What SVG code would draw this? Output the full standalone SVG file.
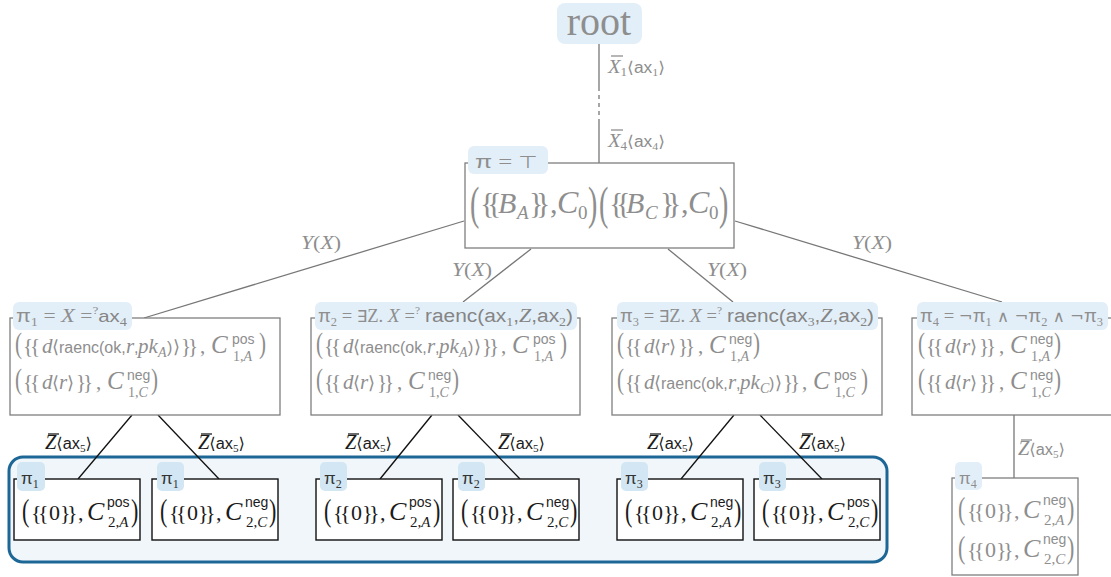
<svg xmlns="http://www.w3.org/2000/svg" width="1111" height="577" viewBox="0 0 1111 577">
<style>
.g{fill:#8e8e8e}
.k{fill:#1b1b1b}
.s{font-family:"Liberation Serif","DejaVu Serif",serif}
.i{font-family:"Liberation Serif","DejaVu Serif",serif;font-style:italic}
.a{font-family:"Liberation Sans","DejaVu Sans",sans-serif}
.d{font-family:"DejaVu Sans","Liberation Sans",sans-serif}
.b21{font-family:"Liberation Serif","DejaVu Serif",serif;font-size:21px;letter-spacing:-3px}
.b22{font-family:"Liberation Serif","DejaVu Serif",serif;font-size:22px;letter-spacing:-3.5px}
.b30{font-family:"Liberation Serif","DejaVu Serif",serif;font-size:30px;letter-spacing:-7.4px}
.pb{fill:#fff;stroke:#7f7f7f;stroke-width:1.3}
.lb{fill:#fff;stroke:#111;stroke-width:1.4}
.tag{fill:#e3eff8}
.tagd{fill:#d2e6f3}
.e{stroke:#777;stroke-width:1.3;fill:none}
.ek{stroke:#111;stroke-width:1.3;fill:none}
.bg{stroke:#8e8e8e;stroke-width:1.3}
.bk{stroke:#1b1b1b;stroke-width:1.3}
</style>

<rect id="highlight" x="9" y="457" width="878" height="105" rx="14" fill="#f1f6fa" stroke="#1d6796" stroke-width="3"/>

<g id="connectors">
  <line class="e" x1="599" y1="44" x2="599" y2="87"/>
  <line class="e" x1="599" y1="87" x2="599" y2="122" stroke-dasharray="4 4"/>
  <line class="e" x1="599" y1="122" x2="599" y2="163"/>
  <line class="e" x1="464" y1="221" x2="144" y2="318"/>
  <line class="e" x1="531" y1="249" x2="463" y2="302"/>
  <line class="e" x1="668" y1="249" x2="733" y2="302"/>
  <line class="e" x1="735" y1="221" x2="1002" y2="302"/>
  <line class="ek" x1="132" y1="415" x2="78" y2="479"/>
  <line class="ek" x1="158" y1="415" x2="219" y2="479"/>
  <line class="ek" x1="432" y1="415" x2="380" y2="479"/>
  <line class="ek" x1="458" y1="415" x2="520" y2="479"/>
  <line class="ek" x1="734" y1="415" x2="681" y2="479"/>
  <line class="ek" x1="760" y1="415" x2="822" y2="479"/>
  <line class="e" x1="1014" y1="415" x2="1014" y2="478"/>
  <line class="bg" x1="611" y1="56" x2="623" y2="56"/>
  <text class="g" x="608" y="73" textLength="57" lengthAdjust="spacingAndGlyphs"><tspan class="i" font-size="19">X</tspan><tspan class="s" font-size="12" dy="3">1</tspan><tspan class="d" font-size="16" dy="-3">⟨</tspan><tspan class="a" font-size="16">ax</tspan><tspan class="s" font-size="11" dy="3">1</tspan><tspan class="d" font-size="16" dy="-3">⟩</tspan></text>
  <line class="bg" x1="611" y1="130" x2="623" y2="130"/>
  <text class="g" x="608" y="147" textLength="57" lengthAdjust="spacingAndGlyphs"><tspan class="i" font-size="19">X</tspan><tspan class="s" font-size="12" dy="3">4</tspan><tspan class="d" font-size="16" dy="-3">⟨</tspan><tspan class="a" font-size="16">ax</tspan><tspan class="s" font-size="11" dy="3">4</tspan><tspan class="d" font-size="16" dy="-3">⟩</tspan></text>
  <text class="g" x="301" y="249" textLength="40" lengthAdjust="spacingAndGlyphs" font-size="18"><tspan class="i">Y</tspan><tspan class="s">(</tspan><tspan class="i">X</tspan><tspan class="s">)</tspan></text>
  <text class="g" x="452" y="276" textLength="40" lengthAdjust="spacingAndGlyphs" font-size="18"><tspan class="i">Y</tspan><tspan class="s">(</tspan><tspan class="i">X</tspan><tspan class="s">)</tspan></text>
  <text class="g" x="707" y="276" textLength="40" lengthAdjust="spacingAndGlyphs" font-size="18"><tspan class="i">Y</tspan><tspan class="s">(</tspan><tspan class="i">X</tspan><tspan class="s">)</tspan></text>
  <text class="g" x="852" y="249" textLength="40" lengthAdjust="spacingAndGlyphs" font-size="18"><tspan class="i">Y</tspan><tspan class="s">(</tspan><tspan class="i">X</tspan><tspan class="s">)</tspan></text>
  <line class="bk" x1="48" y1="434" x2="59" y2="434"/>
  <text class="k" x="45" y="449" textLength="47" lengthAdjust="spacingAndGlyphs"><tspan class="i" font-size="20">Z</tspan><tspan class="d" font-size="16">⟨</tspan><tspan class="a" font-size="16">ax</tspan><tspan class="s" font-size="11" dy="3">5</tspan><tspan class="d" font-size="16" dy="-3">⟩</tspan></text>
  <line class="bk" x1="201" y1="434" x2="212" y2="434"/>
  <text class="k" x="198" y="449" textLength="47" lengthAdjust="spacingAndGlyphs"><tspan class="i" font-size="20">Z</tspan><tspan class="d" font-size="16">⟨</tspan><tspan class="a" font-size="16">ax</tspan><tspan class="s" font-size="11" dy="3">5</tspan><tspan class="d" font-size="16" dy="-3">⟩</tspan></text>
  <line class="bk" x1="348" y1="434" x2="359" y2="434"/>
  <text class="k" x="345" y="449" textLength="47" lengthAdjust="spacingAndGlyphs"><tspan class="i" font-size="20">Z</tspan><tspan class="d" font-size="16">⟨</tspan><tspan class="a" font-size="16">ax</tspan><tspan class="s" font-size="11" dy="3">5</tspan><tspan class="d" font-size="16" dy="-3">⟩</tspan></text>
  <line class="bk" x1="501" y1="434" x2="512" y2="434"/>
  <text class="k" x="498" y="449" textLength="47" lengthAdjust="spacingAndGlyphs"><tspan class="i" font-size="20">Z</tspan><tspan class="d" font-size="16">⟨</tspan><tspan class="a" font-size="16">ax</tspan><tspan class="s" font-size="11" dy="3">5</tspan><tspan class="d" font-size="16" dy="-3">⟩</tspan></text>
  <line class="bk" x1="650" y1="434" x2="661" y2="434"/>
  <text class="k" x="647" y="449" textLength="47" lengthAdjust="spacingAndGlyphs"><tspan class="i" font-size="20">Z</tspan><tspan class="d" font-size="16">⟨</tspan><tspan class="a" font-size="16">ax</tspan><tspan class="s" font-size="11" dy="3">5</tspan><tspan class="d" font-size="16" dy="-3">⟩</tspan></text>
  <line class="bk" x1="802" y1="434" x2="813" y2="434"/>
  <text class="k" x="799" y="449" textLength="47" lengthAdjust="spacingAndGlyphs"><tspan class="i" font-size="20">Z</tspan><tspan class="d" font-size="16">⟨</tspan><tspan class="a" font-size="16">ax</tspan><tspan class="s" font-size="11" dy="3">5</tspan><tspan class="d" font-size="16" dy="-3">⟩</tspan></text>
  <line class="bg" x1="1021" y1="440" x2="1032" y2="440"/>
  <text class="g" x="1018" y="455" textLength="47" lengthAdjust="spacingAndGlyphs"><tspan class="i" font-size="20">Z</tspan><tspan class="d" font-size="16">⟨</tspan><tspan class="a" font-size="16">ax</tspan><tspan class="s" font-size="11" dy="3">5</tspan><tspan class="d" font-size="16" dy="-3">⟩</tspan></text>
</g>

<g id="root">
  <rect class="tag" x="557" y="3" width="85" height="41" rx="8"/>
  <text class="g s" x="599" y="35" text-anchor="middle" font-size="40">root</text>
</g>

<g id="main">
  <rect class="pb" x="465" y="163" width="269" height="85"/>
  <rect class="tag" x="468" y="146" width="80" height="28" rx="6"/>
  <text class="g" x="475" y="168" textLength="63" lengthAdjust="spacingAndGlyphs"><tspan class="a" font-size="19">π</tspan><tspan class="s" font-size="19"> = </tspan><tspan class="d" font-size="17">⊤</tspan></text>
  <text class="g s" font-size="28" transform="translate(470,219) scale(1,1.65)">(</text>
  <text class="g" y="213"><tspan class="b30" x="480">{{</tspan><tspan class="i" font-size="30" x="498">B</tspan><tspan class="i" font-size="19" x="517" dy="6">A</tspan><tspan class="b30" x="529" dy="-6">}}</tspan><tspan class="s" font-size="30" x="550">,</tspan><tspan class="i" font-size="32" x="557">C</tspan><tspan class="s" font-size="19" x="578" dy="6">0</tspan></text>
  <text class="g s" font-size="28" transform="translate(588,219) scale(1,1.65)">)</text>
  <text class="g s" font-size="28" transform="translate(599,219) scale(1,1.65)">(</text>
  <text class="g" y="213"><tspan class="b30" x="609">{{</tspan><tspan class="i" font-size="30" x="626">B</tspan><tspan class="i" font-size="19" x="645" dy="6">C</tspan><tspan class="b30" x="660" dy="-6">}}</tspan><tspan class="s" font-size="30" x="681">,</tspan><tspan class="i" font-size="32" x="688">C</tspan><tspan class="s" font-size="19" x="709" dy="6">0</tspan></text>
  <text class="g s" font-size="28" transform="translate(719,219) scale(1,1.65)">)</text>
</g>

<g id="pi1">
  <rect class="pb" x="10" y="318" width="270" height="97"/>
  <rect class="tag" x="13" y="302" width="119" height="28" rx="6"/>
  <text class="g" x="16" y="322" textLength="111" lengthAdjust="spacingAndGlyphs"><tspan class="a" font-size="18">π</tspan><tspan class="s" font-size="12" dy="4">1</tspan><tspan class="s" font-size="18" dy="-4"> = </tspan><tspan class="i" font-size="19">X</tspan><tspan class="s" font-size="18"> =</tspan><tspan class="s" font-size="11" dy="-8">?</tspan><tspan class="a" font-size="17" dy="8" fill="#858585">ax</tspan><tspan class="s" font-size="12" dy="4" fill="#858585">4</tspan></text>
  <text class="g s" font-size="21" transform="translate(15,353) scale(1,1.45)">(</text>
  <text class="g" y="353"><tspan class="b21" x="23">{{</tspan><tspan class="i" font-size="21" x="42">d</tspan><tspan class="d" font-size="18" x="52">⟨</tspan><tspan class="a" font-size="16" x="59">raenc(ok,</tspan><tspan class="i" font-size="21" x="126">r</tspan><tspan class="a" font-size="16" x="134">,</tspan><tspan class="i" font-size="21" x="138">pk</tspan><tspan class="i" font-size="14" x="158" dy="4">A</tspan><tspan class="a" font-size="16" x="167" dy="-4">)</tspan><tspan class="d" font-size="18" x="173">⟩</tspan><tspan class="b21" x="181">}}</tspan><tspan class="s" font-size="21" x="200">,</tspan><tspan class="i" font-size="25" x="211">C</tspan></text>
  <text class="g a" font-size="14" x="232" y="344">pos</text>
  <text class="g s" font-size="14" x="233" y="361">1,<tspan class="i">A</tspan></text>
  <text class="g s" font-size="21" transform="translate(259,353) scale(1,1.45)">)</text>
  <text class="g s" font-size="21" transform="translate(15,389) scale(1,1.45)">(</text>
  <text class="g" y="389"><tspan class="b21" x="23">{{</tspan><tspan class="i" font-size="21" x="42">d</tspan><tspan class="d" font-size="18" x="52">⟨</tspan><tspan class="i" font-size="21" x="59">r</tspan><tspan class="d" font-size="18" x="67">⟩</tspan><tspan class="b21" x="76">}}</tspan><tspan class="s" font-size="21" x="96">,</tspan><tspan class="i" font-size="25" x="107">C</tspan></text>
  <text class="g a" font-size="14" x="127" y="380">neg</text>
  <text class="g s" font-size="14" x="128" y="397">1,<tspan class="i">C</tspan></text>
  <text class="g s" font-size="21" transform="translate(151,389) scale(1,1.45)">)</text>
</g>

<g id="pi2">
  <rect class="pb" x="311" y="318" width="269" height="97"/>
  <rect class="tag" x="315" y="302" width="262" height="28" rx="6"/>
  <text class="g" x="318" y="322" textLength="102" lengthAdjust="spacingAndGlyphs"><tspan class="a" font-size="18">π</tspan><tspan class="s" font-size="12" dy="4">2</tspan><tspan class="s" font-size="18" dy="-4"> = </tspan><tspan class="d" font-size="16">∃</tspan><tspan class="s" font-size="18">Z. </tspan><tspan class="i" font-size="19">X</tspan><tspan class="s" font-size="18"> =</tspan><tspan class="s" font-size="11" dy="-8">?</tspan></text>
  <text fill="#858585" x="425" y="322" textLength="148" lengthAdjust="spacingAndGlyphs"><tspan class="a" font-size="18">raenc(ax</tspan><tspan class="s" font-size="12" dy="4">1</tspan><tspan class="a" font-size="18" dy="-4">,</tspan><tspan class="i" font-size="19">Z</tspan><tspan class="a" font-size="18">,ax</tspan><tspan class="s" font-size="12" dy="4">2</tspan><tspan class="a" font-size="18" dy="-4">)</tspan></text>
  <text class="g s" font-size="21" transform="translate(316,353) scale(1,1.45)">(</text>
  <text class="g" y="353"><tspan class="b21" x="324">{{</tspan><tspan class="i" font-size="21" x="343">d</tspan><tspan class="d" font-size="18" x="353">⟨</tspan><tspan class="a" font-size="16" x="360">raenc(ok,</tspan><tspan class="i" font-size="21" x="427">r</tspan><tspan class="a" font-size="16" x="435">,</tspan><tspan class="i" font-size="21" x="439">pk</tspan><tspan class="i" font-size="14" x="459" dy="4">A</tspan><tspan class="a" font-size="16" x="468" dy="-4">)</tspan><tspan class="d" font-size="18" x="474">⟩</tspan><tspan class="b21" x="482">}}</tspan><tspan class="s" font-size="21" x="501">,</tspan><tspan class="i" font-size="25" x="512">C</tspan></text>
  <text class="g a" font-size="14" x="533" y="344">pos</text>
  <text class="g s" font-size="14" x="534" y="361">1,<tspan class="i">A</tspan></text>
  <text class="g s" font-size="21" transform="translate(560,353) scale(1,1.45)">)</text>
  <text class="g s" font-size="21" transform="translate(316,389) scale(1,1.45)">(</text>
  <text class="g" y="389"><tspan class="b21" x="324">{{</tspan><tspan class="i" font-size="21" x="343">d</tspan><tspan class="d" font-size="18" x="353">⟨</tspan><tspan class="i" font-size="21" x="360">r</tspan><tspan class="d" font-size="18" x="368">⟩</tspan><tspan class="b21" x="377">}}</tspan><tspan class="s" font-size="21" x="397">,</tspan><tspan class="i" font-size="25" x="408">C</tspan></text>
  <text class="g a" font-size="14" x="428" y="380">neg</text>
  <text class="g s" font-size="14" x="429" y="397">1,<tspan class="i">C</tspan></text>
  <text class="g s" font-size="21" transform="translate(452,389) scale(1,1.45)">)</text>
</g>

<g id="pi3">
  <rect class="pb" x="612" y="318" width="270" height="97"/>
  <rect class="tag" x="617" y="302" width="261" height="28" rx="6"/>
  <text class="g" x="620" y="322" textLength="102" lengthAdjust="spacingAndGlyphs"><tspan class="a" font-size="18">π</tspan><tspan class="s" font-size="12" dy="4">3</tspan><tspan class="s" font-size="18" dy="-4"> = </tspan><tspan class="d" font-size="16">∃</tspan><tspan class="s" font-size="18">Z. </tspan><tspan class="i" font-size="19">X</tspan><tspan class="s" font-size="18"> =</tspan><tspan class="s" font-size="11" dy="-8">?</tspan></text>
  <text fill="#858585" x="727" y="322" textLength="147" lengthAdjust="spacingAndGlyphs"><tspan class="a" font-size="18">raenc(ax</tspan><tspan class="s" font-size="12" dy="4">3</tspan><tspan class="a" font-size="18" dy="-4">,</tspan><tspan class="i" font-size="19">Z</tspan><tspan class="a" font-size="18">,ax</tspan><tspan class="s" font-size="12" dy="4">2</tspan><tspan class="a" font-size="18" dy="-4">)</tspan></text>
  <text class="g s" font-size="21" transform="translate(617,353) scale(1,1.45)">(</text>
  <text class="g" y="353"><tspan class="b21" x="625">{{</tspan><tspan class="i" font-size="21" x="644">d</tspan><tspan class="d" font-size="18" x="654">⟨</tspan><tspan class="i" font-size="21" x="661">r</tspan><tspan class="d" font-size="18" x="669">⟩</tspan><tspan class="b21" x="678">}}</tspan><tspan class="s" font-size="21" x="698">,</tspan><tspan class="i" font-size="25" x="709">C</tspan></text>
  <text class="g a" font-size="14" x="729" y="344">neg</text>
  <text class="g s" font-size="14" x="730" y="361">1,<tspan class="i">A</tspan></text>
  <text class="g s" font-size="21" transform="translate(753,353) scale(1,1.45)">)</text>
  <text class="g s" font-size="21" transform="translate(617,389) scale(1,1.45)">(</text>
  <text class="g" y="389"><tspan class="b21" x="625">{{</tspan><tspan class="i" font-size="21" x="644">d</tspan><tspan class="d" font-size="18" x="654">⟨</tspan><tspan class="a" font-size="16" x="661">raenc(ok,</tspan><tspan class="i" font-size="21" x="728">r</tspan><tspan class="a" font-size="16" x="736">,</tspan><tspan class="i" font-size="21" x="740">pk</tspan><tspan class="i" font-size="14" x="760" dy="4">C</tspan><tspan class="a" font-size="16" x="769" dy="-4">)</tspan><tspan class="d" font-size="18" x="775">⟩</tspan><tspan class="b21" x="783">}}</tspan><tspan class="s" font-size="21" x="802">,</tspan><tspan class="i" font-size="25" x="813">C</tspan></text>
  <text class="g a" font-size="14" x="834" y="380">pos</text>
  <text class="g s" font-size="14" x="835" y="397">1,<tspan class="i">C</tspan></text>
  <text class="g s" font-size="21" transform="translate(861,389) scale(1,1.45)">)</text>
</g>

<g id="pi4">
  <rect class="pb" x="912" y="318" width="210" height="97"/>
  <rect class="tag" x="917" y="302" width="191" height="28" rx="6"/>
  <text class="g" x="920" y="322" textLength="183" lengthAdjust="spacingAndGlyphs"><tspan class="a" font-size="18">π</tspan><tspan class="s" font-size="12" dy="4">4</tspan><tspan class="s" font-size="18" dy="-4"> = </tspan><tspan class="d" font-size="16">¬</tspan><tspan class="a" font-size="18">π</tspan><tspan class="s" font-size="12" dy="4">1</tspan><tspan class="d" font-size="16" dy="-4"> ∧ ¬</tspan><tspan class="a" font-size="18">π</tspan><tspan class="s" font-size="12" dy="4">2</tspan><tspan class="d" font-size="16" dy="-4"> ∧ ¬</tspan><tspan class="a" font-size="18">π</tspan><tspan class="s" font-size="12" dy="4">3</tspan></text>
  <text class="g s" font-size="21" transform="translate(918,353) scale(1,1.45)">(</text>
  <text class="g" y="353"><tspan class="b21" x="926">{{</tspan><tspan class="i" font-size="21" x="945">d</tspan><tspan class="d" font-size="18" x="955">⟨</tspan><tspan class="i" font-size="21" x="962">r</tspan><tspan class="d" font-size="18" x="970">⟩</tspan><tspan class="b21" x="979">}}</tspan><tspan class="s" font-size="21" x="999">,</tspan><tspan class="i" font-size="25" x="1010">C</tspan></text>
  <text class="g a" font-size="14" x="1030" y="344">neg</text>
  <text class="g s" font-size="14" x="1031" y="361">1,<tspan class="i">A</tspan></text>
  <text class="g s" font-size="21" transform="translate(1054,353) scale(1,1.45)">)</text>
  <text class="g s" font-size="21" transform="translate(918,389) scale(1,1.45)">(</text>
  <text class="g" y="389"><tspan class="b21" x="926">{{</tspan><tspan class="i" font-size="21" x="945">d</tspan><tspan class="d" font-size="18" x="955">⟨</tspan><tspan class="i" font-size="21" x="962">r</tspan><tspan class="d" font-size="18" x="970">⟩</tspan><tspan class="b21" x="979">}}</tspan><tspan class="s" font-size="21" x="999">,</tspan><tspan class="i" font-size="25" x="1010">C</tspan></text>
  <text class="g a" font-size="14" x="1030" y="380">neg</text>
  <text class="g s" font-size="14" x="1031" y="397">1,<tspan class="i">C</tspan></text>
  <text class="g s" font-size="21" transform="translate(1054,389) scale(1,1.45)">)</text>
</g>

<g id="leaf1">
  <rect class="lb" x="14" y="479" width="126" height="61"/>
  <rect class="tagd" x="17" y="462" width="28" height="29" rx="5"/>
  <text fill="#333" x="21" y="484"><tspan class="a" font-size="17">π</tspan><tspan class="s" font-size="12" dy="4">1</tspan></text>
  <text class="k s" font-size="22" transform="translate(22,521) scale(1,1.45)">(</text>
  <text class="k" y="520"><tspan class="b22" x="31">{{</tspan><tspan class="s" font-size="22" x="49">0</tspan><tspan class="b22" x="60">}}</tspan><tspan class="s" font-size="22" x="78">,</tspan><tspan class="i" font-size="26" x="87">C</tspan></text>
  <text class="k a" font-size="14" x="107" y="507">pos</text>
  <text class="k s" font-size="15" x="108" y="527">2,<tspan class="i">A</tspan></text>
  <text class="k s" font-size="22" transform="translate(131,521) scale(1,1.45)">)</text>
</g>

<g id="leaf2">
  <rect class="lb" x="152" y="479" width="126" height="61"/>
  <rect class="tagd" x="157" y="462" width="27" height="29" rx="5"/>
  <text fill="#333" x="161" y="484"><tspan class="a" font-size="17">π</tspan><tspan class="s" font-size="12" dy="4">1</tspan></text>
  <text class="k s" font-size="22" transform="translate(160,521) scale(1,1.45)">(</text>
  <text class="k" y="520"><tspan class="b22" x="169">{{</tspan><tspan class="s" font-size="22" x="187">0</tspan><tspan class="b22" x="198">}}</tspan><tspan class="s" font-size="22" x="216">,</tspan><tspan class="i" font-size="26" x="225">C</tspan></text>
  <text class="k a" font-size="14" x="245" y="507">neg</text>
  <text class="k s" font-size="15" x="246" y="527">2,<tspan class="i">C</tspan></text>
  <text class="k s" font-size="22" transform="translate(269,521) scale(1,1.45)">)</text>
</g>

<g id="leaf3">
  <rect class="lb" x="316" y="479" width="126" height="61"/>
  <rect class="tagd" x="320" y="462" width="27" height="29" rx="5"/>
  <text fill="#333" x="324" y="484"><tspan class="a" font-size="17">π</tspan><tspan class="s" font-size="12" dy="4">2</tspan></text>
  <text class="k s" font-size="22" transform="translate(324,521) scale(1,1.45)">(</text>
  <text class="k" y="520"><tspan class="b22" x="333">{{</tspan><tspan class="s" font-size="22" x="351">0</tspan><tspan class="b22" x="362">}}</tspan><tspan class="s" font-size="22" x="380">,</tspan><tspan class="i" font-size="26" x="389">C</tspan></text>
  <text class="k a" font-size="14" x="409" y="507">pos</text>
  <text class="k s" font-size="15" x="410" y="527">2,<tspan class="i">A</tspan></text>
  <text class="k s" font-size="22" transform="translate(433,521) scale(1,1.45)">)</text>
</g>

<g id="leaf4">
  <rect class="lb" x="453" y="479" width="126" height="61"/>
  <rect class="tagd" x="458" y="462" width="27" height="29" rx="5"/>
  <text fill="#333" x="462" y="484"><tspan class="a" font-size="17">π</tspan><tspan class="s" font-size="12" dy="4">2</tspan></text>
  <text class="k s" font-size="22" transform="translate(461,521) scale(1,1.45)">(</text>
  <text class="k" y="520"><tspan class="b22" x="470">{{</tspan><tspan class="s" font-size="22" x="488">0</tspan><tspan class="b22" x="499">}}</tspan><tspan class="s" font-size="22" x="517">,</tspan><tspan class="i" font-size="26" x="526">C</tspan></text>
  <text class="k a" font-size="14" x="546" y="507">neg</text>
  <text class="k s" font-size="15" x="547" y="527">2,<tspan class="i">C</tspan></text>
  <text class="k s" font-size="22" transform="translate(570,521) scale(1,1.45)">)</text>
</g>

<g id="leaf5">
  <rect class="lb" x="617" y="479" width="126" height="61"/>
  <rect class="tagd" x="621" y="462" width="27" height="29" rx="5"/>
  <text fill="#333" x="625" y="484"><tspan class="a" font-size="17">π</tspan><tspan class="s" font-size="12" dy="4">3</tspan></text>
  <text class="k s" font-size="22" transform="translate(625,521) scale(1,1.45)">(</text>
  <text class="k" y="520"><tspan class="b22" x="634">{{</tspan><tspan class="s" font-size="22" x="652">0</tspan><tspan class="b22" x="663">}}</tspan><tspan class="s" font-size="22" x="681">,</tspan><tspan class="i" font-size="26" x="690">C</tspan></text>
  <text class="k a" font-size="14" x="710" y="507">neg</text>
  <text class="k s" font-size="15" x="711" y="527">2,<tspan class="i">A</tspan></text>
  <text class="k s" font-size="22" transform="translate(734,521) scale(1,1.45)">)</text>
</g>

<g id="leaf6">
  <rect class="lb" x="754" y="479" width="126" height="61"/>
  <rect class="tagd" x="759" y="462" width="27" height="29" rx="5"/>
  <text fill="#333" x="763" y="484"><tspan class="a" font-size="17">π</tspan><tspan class="s" font-size="12" dy="4">3</tspan></text>
  <text class="k s" font-size="22" transform="translate(762,521) scale(1,1.45)">(</text>
  <text class="k" y="520"><tspan class="b22" x="771">{{</tspan><tspan class="s" font-size="22" x="789">0</tspan><tspan class="b22" x="800">}}</tspan><tspan class="s" font-size="22" x="818">,</tspan><tspan class="i" font-size="26" x="827">C</tspan></text>
  <text class="k a" font-size="14" x="847" y="507">pos</text>
  <text class="k s" font-size="15" x="848" y="527">2,<tspan class="i">C</tspan></text>
  <text class="k s" font-size="22" transform="translate(871,521) scale(1,1.45)">)</text>
</g>

<g id="leaf7">
  <rect class="pb" x="952" y="478" width="126" height="97"/>
  <rect class="tag" x="955" y="462" width="27" height="28" rx="5"/>
  <text class="g" x="959" y="484"><tspan class="a" font-size="17">π</tspan><tspan class="s" font-size="12" dy="4">4</tspan></text>
  <text class="g s" font-size="22" transform="translate(958,519) scale(1,1.45)">(</text>
  <text class="g" y="518"><tspan class="b22" x="967">{{</tspan><tspan class="s" font-size="22" x="985">0</tspan><tspan class="b22" x="996">}}</tspan><tspan class="s" font-size="22" x="1014">,</tspan><tspan class="i" font-size="26" x="1023">C</tspan></text>
  <text class="g a" font-size="14" x="1043" y="505">neg</text>
  <text class="g s" font-size="15" x="1044" y="525">2,<tspan class="i">A</tspan></text>
  <text class="g s" font-size="22" transform="translate(1067,519) scale(1,1.45)">)</text>
  <text class="g s" font-size="22" transform="translate(958,558) scale(1,1.45)">(</text>
  <text class="g" y="557"><tspan class="b22" x="967">{{</tspan><tspan class="s" font-size="22" x="985">0</tspan><tspan class="b22" x="996">}}</tspan><tspan class="s" font-size="22" x="1014">,</tspan><tspan class="i" font-size="26" x="1023">C</tspan></text>
  <text class="g a" font-size="14" x="1043" y="544">neg</text>
  <text class="g s" font-size="15" x="1044" y="564">2,<tspan class="i">C</tspan></text>
  <text class="g s" font-size="22" transform="translate(1067,558) scale(1,1.45)">)</text>
</g>
</svg>
